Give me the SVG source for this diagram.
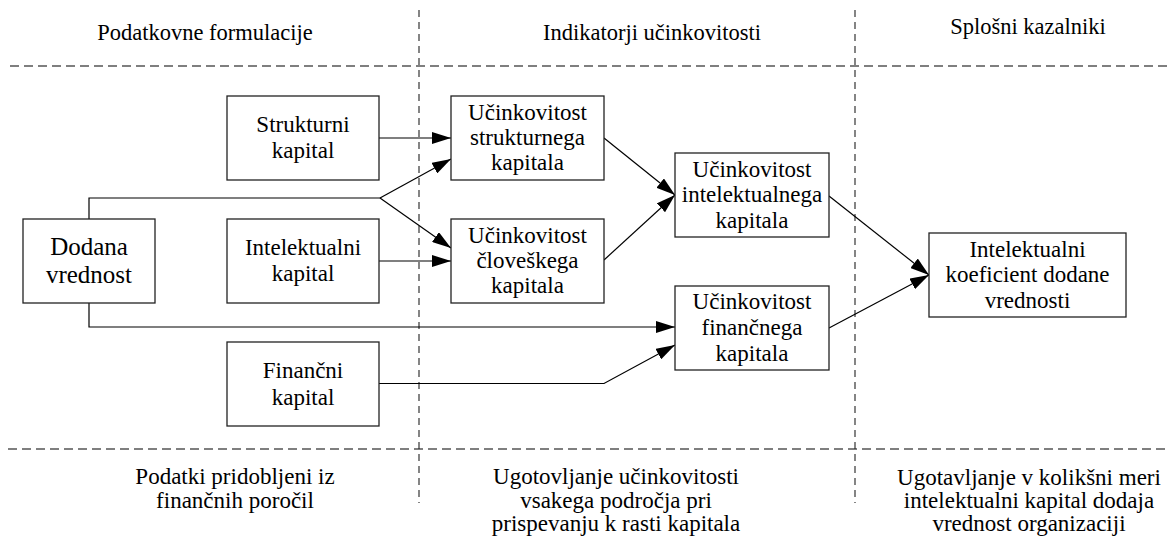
<svg xmlns="http://www.w3.org/2000/svg" width="1168" height="538" viewBox="0 0 1168 538">
<defs>
<style>
text{fill:#000;text-anchor:middle;font-family:'Liberation Serif','Times New Roman',serif}
.hd{font-size:22.5px}
.nt{font-size:23px}
.big{font-size:25px}
.bt{font-size:23px}
.box{fill:#fff;stroke:#222;stroke-width:1.3}
.hdash{stroke:#555;stroke-width:1.4;stroke-dasharray:9 5;fill:none}
.vdash{stroke:#222;stroke-width:1.1;stroke-dasharray:7 5;fill:none}
.con{stroke:#000;stroke-width:1.2;fill:none}
</style>
<marker id="ah" markerUnits="userSpaceOnUse" markerWidth="20" markerHeight="12" refX="19" refY="6" orient="auto" viewBox="0 0 20 12">
<path d="M0,0 L19,6 L0,12 z" fill="#000"/>
</marker>
</defs>
<rect width="1168" height="538" fill="#fff"/>

<g id="grid">
<line class="hdash" x1="10" y1="66" x2="1168" y2="66"/>
<line class="hdash" x1="8" y1="449" x2="1168" y2="449"/>
<line class="vdash" x1="419" y1="10" x2="419" y2="503"/>
<line class="vdash" x1="855" y1="10" x2="855" y2="503"/>
</g>

<g id="headers">
<text class="hd" x="205" y="39.5">Podatkovne formulacije</text>
<text class="hd" x="652" y="39.5">Indikatorji učinkovitosti</text>
<text class="hd" x="1028" y="33.5">Splošni kazalniki</text>
</g>

<g id="footers">
<text class="bt" x="235" y="484">Podatki pridobljeni iz</text>
<text class="bt" x="235" y="508">finančnih poročil</text>
<text class="bt" x="616" y="484">Ugotovljanje učinkovitosti</text>
<text class="bt" x="616" y="507.5">vsakega področja pri</text>
<text class="bt" x="616" y="531">prispevanju k rasti kapitala</text>
<text class="bt" x="1029" y="484.5">Ugotavljanje v kolikšni meri</text>
<text class="bt" x="1029" y="508">intelektualni kapital dodaja</text>
<text class="bt" x="1029" y="531">vrednost organizaciji</text>
</g>

<g id="connectors">
<path class="con" d="M89,219 V198 H380"/>
<path class="con" d="M380,198 L451,159" marker-end="url(#ah)"/>
<path class="con" d="M380,198 L451,248" marker-end="url(#ah)"/>
<path class="con" d="M379,138 H451" marker-end="url(#ah)"/>
<path class="con" d="M379,261 H451" marker-end="url(#ah)"/>
<path class="con" d="M89,303 V327 H675" marker-end="url(#ah)"/>
<path class="con" d="M379,383.5 H604 L675,345" marker-end="url(#ah)"/>
<path class="con" d="M604,138 L675,195" marker-end="url(#ah)"/>
<path class="con" d="M604,260 L675,195" marker-end="url(#ah)"/>
<path class="con" d="M829,196 L929,275" marker-end="url(#ah)"/>
<path class="con" d="M829,328 L929,275" marker-end="url(#ah)"/>
</g>

<g id="dodana">
<rect class="box" x="23" y="219" width="132" height="84"/>
<text class="big" x="89" y="254.5">Dodana</text>
<text class="big" x="89" y="282.5">vrednost</text>
</g>

<g id="strukturni">
<rect class="box" x="227" y="96" width="152" height="84"/>
<text class="nt" x="303" y="131.5">Strukturni</text>
<text class="nt" x="303" y="157.5">kapital</text>
</g>

<g id="intelektualni">
<rect class="box" x="227" y="219" width="152" height="84"/>
<text class="nt" x="303" y="254.5">Intelektualni</text>
<text class="nt" x="303" y="280.5">kapital</text>
</g>

<g id="financni">
<rect class="box" x="227" y="342" width="152" height="84"/>
<text class="nt" x="303" y="378">Finančni</text>
<text class="nt" x="303" y="404.5">kapital</text>
</g>

<g id="uc-strukturnega">
<rect class="box" x="451" y="96" width="153" height="84"/>
<text class="nt" x="527.5" y="119.5">Učinkovitost</text>
<text class="nt" x="527.5" y="144.5">strukturnega</text>
<text class="nt" x="527.5" y="169.5">kapitala</text>
</g>

<g id="uc-cloveskega">
<rect class="box" x="451" y="219" width="153" height="84"/>
<text class="nt" x="527.5" y="242.5">Učinkovitost</text>
<text class="nt" x="527.5" y="268">človeškega</text>
<text class="nt" x="527.5" y="293">kapitala</text>
</g>

<g id="uc-intelektualnega">
<rect class="box" x="675" y="153" width="154" height="84"/>
<text class="nt" x="752" y="176.5">Učinkovitost</text>
<text class="nt" x="752" y="202">intelektualnega</text>
<text class="nt" x="752" y="227.5">kapitala</text>
</g>

<g id="uc-financnega">
<rect class="box" x="675" y="286" width="154" height="84"/>
<text class="nt" x="752" y="309">Učinkovitost</text>
<text class="nt" x="752" y="334.5">finančnega</text>
<text class="nt" x="752" y="360.5">kapitala</text>
</g>

<g id="ikdv">
<rect class="box" x="929" y="233" width="197" height="84"/>
<text class="nt" x="1027.5" y="256.5">Intelektualni</text>
<text class="nt" x="1027.5" y="282">koeficient dodane</text>
<text class="nt" x="1027.5" y="307.5">vrednosti</text>
</g>
</svg>
